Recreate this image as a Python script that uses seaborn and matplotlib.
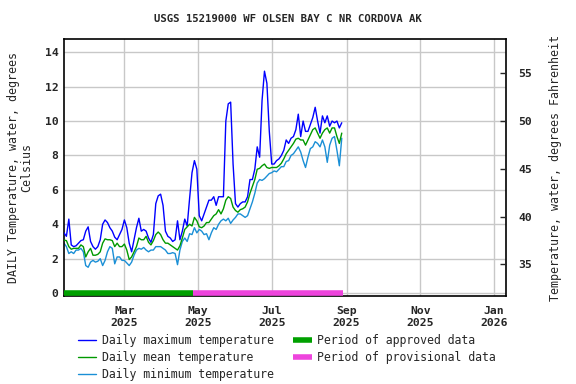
import numpy as np
import pandas as pd
import matplotlib
matplotlib.use("Agg")
import matplotlib.pyplot as plt
import matplotlib.dates as mdates
from matplotlib.lines import Line2D
import seaborn as sns

# ---- data (2-day samples) ----
start_date = "2025-01-10"
step_days = 2
daily_max = [3.5, 3.3, 4.3, 2.8, 2.7, 2.75, 2.9, 3.05, 3.1, 3.6, 3.85, 3.0, 2.7, 2.55, 2.7, 3.1, 4.0, 4.25, 4.1, 3.8, 3.6, 3.25, 3.1, 3.4, 3.7,
             4.25, 3.8, 2.9, 2.4, 3.1, 3.8, 4.35, 3.6, 3.7, 3.6, 3.2, 2.95, 3.4, 5.2, 5.65, 5.75, 5.1, 3.6, 3.3, 3.2, 3.0, 3.1, 4.2,
             3.1, 3.6, 4.3, 3.9, 5.5, 7.0, 7.7, 7.2, 4.5, 4.2, 4.6, 5.0, 5.4, 5.4, 5.6, 5.1, 5.6, 5.6, 5.6, 10.0, 11.0, 11.1, 7.5,
             5.2, 5.0, 5.2, 5.3, 5.3, 5.6, 6.6, 6.6, 7.2, 8.5, 7.9, 11.2, 12.9, 12.2, 9.4, 7.5, 7.5, 7.7, 7.8, 8.0, 8.3, 8.9, 8.7,
             9.0, 9.1, 9.5, 10.4, 9.1, 10.0, 9.4, 9.4, 9.8, 10.2, 10.8, 10.0, 9.3, 10.3, 9.9, 10.3, 9.7, 10.0, 9.9, 10.0, 9.6, 9.9]
daily_mean = [3.08, 3.05, 2.7, 2.55, 2.6, 2.6, 2.6, 2.8, 2.7, 2.1, 2.4, 2.6, 2.2, 2.2, 2.25, 2.4, 2.9, 3.15, 3.1, 3.1, 3.05, 2.7, 2.9, 2.7, 2.7,
              2.85, 2.5, 1.95, 2.1, 2.4, 2.7, 3.2, 3.1, 3.1, 3.3, 2.95, 2.8, 3.05, 3.4, 3.55, 3.4, 3.1, 2.9, 2.9, 2.8, 2.7, 2.6, 2.5,
              2.75, 3.2, 3.7, 3.85, 4.0, 3.9, 4.4, 4.2, 3.85, 3.8, 3.9, 4.1, 4.1, 4.3, 4.5, 4.6, 4.85, 4.6, 4.9, 5.4, 5.6, 5.5, 5.0,
              4.8, 4.7, 4.85, 4.9, 5.0, 5.3, 5.8, 6.2, 6.6, 7.2, 7.25, 7.4, 7.5, 7.3, 7.25, 7.3, 7.3, 7.3, 7.4, 7.55, 7.8, 8.1, 8.3,
              8.5, 8.7, 8.95, 9.0, 8.9, 8.9, 8.6, 8.9, 9.2, 9.5, 9.6, 9.3, 9.0, 9.3, 9.5, 9.6, 9.3, 9.6, 9.6, 9.1, 8.7, 9.3]
daily_min = [2.9, 2.7, 2.3, 2.4, 2.3, 2.5, 2.5, 2.6, 2.4, 1.6, 1.5, 1.8, 1.9, 1.8, 1.85, 2.0, 1.6, 1.9, 2.4, 2.7, 2.6, 1.7, 2.1, 2.1, 1.9,
             1.9, 1.75, 1.6, 1.8, 2.2, 2.5, 2.6, 2.55, 2.65, 2.5, 2.4, 2.5, 2.5, 2.7, 2.7, 2.7, 2.6, 2.5, 2.3, 2.3, 2.35, 2.3, 1.65,
             2.5, 3.0, 3.2, 3.0, 3.45, 3.4, 3.8, 3.5, 3.7, 3.6, 3.4, 3.45, 3.1, 3.5, 3.8, 3.7, 4.0, 4.2, 4.3, 4.2, 4.35, 4.05, 4.25,
             4.4, 4.6, 4.6, 4.5, 4.4, 4.5, 4.9, 5.3, 5.8, 6.4, 6.6, 6.55, 6.65, 6.8, 6.95, 7.0, 7.1, 7.05, 7.2, 7.35, 7.35, 7.65, 7.7,
             8.0, 8.1, 8.3, 8.5, 8.2, 7.7, 7.3, 7.9, 8.4, 8.5, 8.8, 8.7, 8.5, 8.9, 8.5, 7.6, 8.6, 9.0, 9.1, 8.3, 7.4, 9.0]
approved_period = ["2025-01-10", "2025-04-27"]
provisional_period = ["2025-04-27", "2025-08-29"]
x_ticks = ["2025-03-01", "2025-05-01", "2025-07-01", "2025-09-01", "2025-11-01", "2026-01-01"]
x_tick_labels = ["Mar\n2025", "May\n2025", "Jul\n2025", "Sep\n2025", "Nov\n2025", "Jan\n2026"]
y_ticks_c = [0, 2, 4, 6, 8, 10, 12, 14]
y_ticks_f = [35, 40, 45, 50, 55]

title = "USGS 15219000 WF OLSEN BAY C NR CORDOVA AK"
series_labels = ["Daily maximum temperature", "Daily mean temperature", "Daily minimum temperature"]
period_labels = ["Period of approved data", "Period of provisional data"]

dates = pd.date_range(start_date, periods=len(daily_max), freq=f"{step_days}D")
df = pd.DataFrame({"date": dates, "max": daily_max, "mean": daily_mean, "min": daily_min})

sns.set_style("white")
FONT = "DejaVu Sans Mono"
plt.rcParams["font.family"] = [FONT]

c_max = "#0000ff"
c_mean = "#009900"
c_min = "#1a8fd6"
c_appr = "#00a000"
c_prov = "#ee44dd"
grid_c = "#c8c8c8"

fig = plt.figure(figsize=(5.76, 3.84), dpi=100)
ax = fig.add_axes([64/576, 1-296/384, (506-64)/576, (296-39)/384])

ylim = (-0.17, 14.77)
ax.set_ylim(*ylim)
ax.set_xlim(pd.Timestamp("2025-01-10"), pd.Timestamp("2026-01-11"))

for yt in y_ticks_c:
    ax.axhline(yt, color=grid_c, lw=1, zorder=0)
for xt in x_ticks:
    ax.axvline(pd.Timestamp(xt), color=grid_c, lw=1, zorder=0)

sns.lineplot(data=df, x="date", y="max", ax=ax, color=c_max, lw=1, zorder=3)
sns.lineplot(data=df, x="date", y="mean", ax=ax, color=c_mean, lw=1, zorder=4)
sns.lineplot(data=df, x="date", y="min", ax=ax, color=c_min, lw=1, zorder=2)

ax.plot([pd.Timestamp(d) for d in approved_period], [0, 0], color=c_appr, lw=4, solid_capstyle="butt", zorder=5)
ax.plot([pd.Timestamp(d) for d in provisional_period], [0, 0], color=c_prov, lw=4, solid_capstyle="butt", zorder=5)

ax.set_xticks([pd.Timestamp(t) for t in x_ticks])
ax.set_xticklabels(x_tick_labels, fontsize=8.2, fontweight="bold", family=FONT, linespacing=1.25)
ax.set_yticks(y_ticks_c)
ax.set_yticklabels([str(v) for v in y_ticks_c], fontsize=8.2, fontweight="bold", family=FONT)
ax.tick_params(axis="both", direction="in", length=0, pad=4)
ax.tick_params(axis="x", pad=7)
ax.set_xlabel("")
ax.set_ylabel("DAILY Temperature, water, degrees\nCelsius", fontsize=8.4, family=FONT, labelpad=8, linespacing=1.1)
for s in ax.spines.values():
    s.set_color("black")
    s.set_linewidth(1.2)

ax2 = ax.twinx()
ax2.set_ylim(ylim[0]*1.8+32, ylim[1]*1.8+32)
ax2.set_yticks(y_ticks_f)
ax2.set_yticklabels([str(v) for v in y_ticks_f], fontsize=8.2, fontweight="bold", family=FONT)
ax2.tick_params(axis="y", direction="in", length=4, width=1, pad=9)
ax2.set_ylabel("Temperature, water, degrees Fahrenheit", fontsize=8.4, family=FONT, labelpad=12)
for s in ax2.spines.values():
    s.set_visible(False)

fig.text(288/576, 1-19/384, title, ha="center", va="center", fontsize=7.7, family=FONT, fontweight="bold")

handles = [Line2D([], [], color=c_max, lw=1), Line2D([], [], color=c_mean, lw=1), Line2D([], [], color=c_min, lw=1),
           Line2D([], [], color=c_appr, lw=4, solid_capstyle="butt"),
           Line2D([], [], color=c_prov, lw=4, solid_capstyle="butt")]
labels = series_labels + period_labels
fig.legend(handles, labels, ncol=2, loc="upper left", bbox_to_anchor=(78/576, 1-334/384), frameon=False,
           prop={"family": FONT, "size": 8.3}, handlelength=1.6, handletextpad=0.5, columnspacing=1.65,
           labelspacing=0.36, borderaxespad=0, borderpad=0)

fig.savefig("out.png", dpi=100)
